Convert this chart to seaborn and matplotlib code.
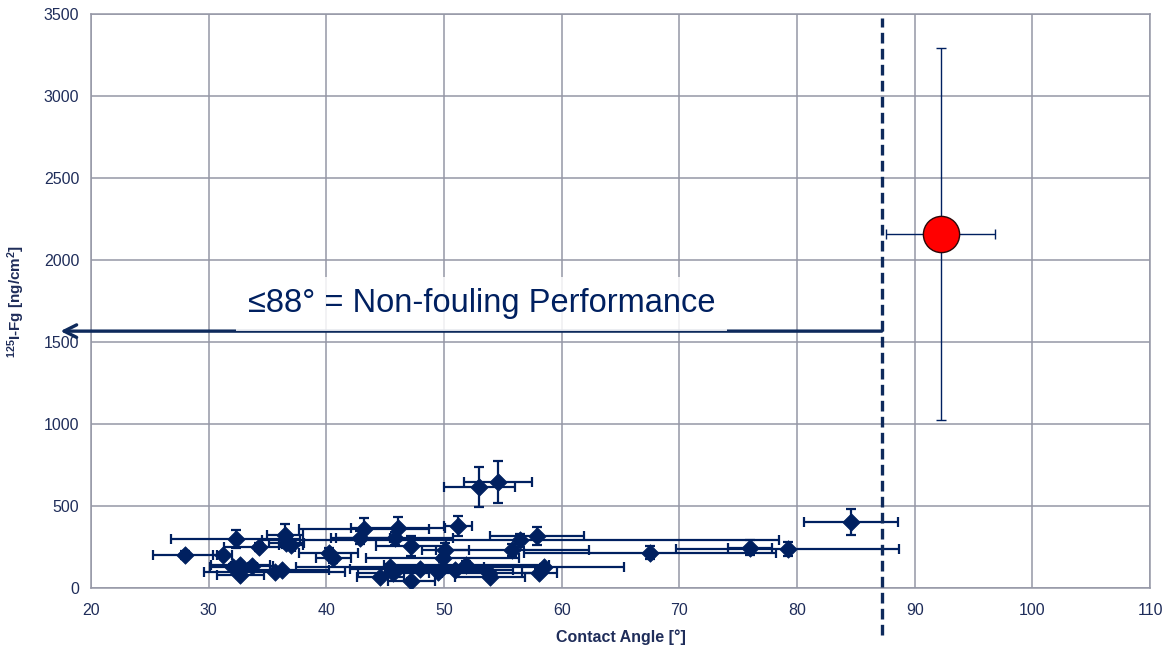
import matplotlib
matplotlib.use("Agg")
import matplotlib.pyplot as plt
import numpy as np
import pandas as pd
import seaborn as sns

# contact angle [deg], adsorbed fibrinogen [ng/cm2] and their error bars
angle = [28.0, 32.3, 31.2, 32.1, 32.7, 32.7, 33.7, 34.3, 35.6, 36.2,
         36.5, 36.6, 37.0, 40.2, 40.6, 42.9, 43.2, 44.6, 45.4, 45.7,
         45.8, 46.1, 47.2, 47.2, 48.0, 49.5, 50.1, 49.9, 51.2, 51.9,
         50.9, 53.0, 54.6, 53.9, 53.8, 55.8, 56.5, 57.9, 58.1, 58.5,
         67.5, 76.0, 79.2, 84.6]
fg = [200, 297, 202, 128, 138, 80, 132, 250, 99, 110,
      323, 274, 262, 212, 185, 306, 362, 66, 130, 92,
      302, 364, 258, 44, 116, 98, 234, 180, 378, 142,
      110, 616, 645, 68, 92, 232, 292, 317, 93, 128,
      215, 246, 238, 404]
angle_err = [2.7, 5.5, 0.8, 2.0, 2.5, 2.0, 1.8, 3.0, 6.0, 4.0,
             1.5, 1.5, 1.0, 2.5, 1.5, 2.5, 5.5, 2.0, 8.0, 3.0,
             5.0, 4.0, 3.0, 2.0, 6.0, 4.5, 2.0, 6.5, 1.2, 7.0,
             5.0, 3.0, 2.9, 3.0, 4.0, 6.5, 22.0, 4.0, 1.5, 6.8,
             10.7, 1.9, 9.5, 4.0]
fg_err = [25, 55, 20, 20, 20, 20, 20, 25, 15, 15,
          70, 30, 25, 30, 30, 40, 65, 15, 15, 20,
          40, 70, 60, 15, 15, 20, 40, 20, 60, 20,
          20, 120, 128, 20, 20, 35, 40, 55, 20, 20,
          40, 45, 45, 80]

# fouling reference surface
ref_angle = [92.2]
ref_fg = [2160]
ref_angle_err = [4.6]
ref_fg_err = [1137]

threshold = 87.2
arrow_y = 1567

navy = "#002060"
dark = "#0E2A5C"
grid_c = "#9597A6"
label_c = "#1F2D5A"

sns.set_style("white")
plt.rcParams["font.family"] = ["Liberation Sans", "DejaVu Sans"]
plt.rcParams["mathtext.fontset"] = "custom"
plt.rcParams["mathtext.rm"] = "Liberation Sans"
plt.rcParams["mathtext.bf"] = "Liberation Sans:bold"

df = pd.DataFrame({"angle": angle, "fg": fg})
ref = pd.DataFrame({"angle": ref_angle, "fg": ref_fg})

fig = plt.figure(figsize=(11.68, 6.49), dpi=100)
ax = fig.add_axes([0.0779, 0.094, 0.9067, 0.884])

ax.errorbar(angle, fg, xerr=angle_err, yerr=fg_err, fmt="none",
            ecolor=navy, elinewidth=1.6, capsize=3.5, capthick=1.6, zorder=3)
sns.scatterplot(data=df, x="angle", y="fg", marker="D", s=80, color=navy,
                edgecolor=navy, linewidth=0.5, ax=ax, zorder=4)

ax.errorbar(ref_angle, ref_fg, xerr=ref_angle_err, yerr=ref_fg_err, fmt="none",
            ecolor=navy, elinewidth=1.0, capsize=3.5, capthick=1.0, zorder=3)
sns.scatterplot(data=ref, x="angle", y="fg", marker="o", s=680, color="#FF0000",
                edgecolor="#2A0808", linewidth=1.0, ax=ax, zorder=5)

# threshold line, running past the axis
ax.plot([threshold, threshold], [-0.082, 0.993], color=dark, lw=2.4,
        ls=(0, (3.2, 1.6)), transform=ax.get_xaxis_transform(), clip_on=False,
        zorder=6)

ax.annotate("", xy=(17.4, arrow_y), xytext=(threshold, arrow_y),
            arrowprops=dict(arrowstyle="->,head_length=0.9,head_width=0.45",
                            color=dark, lw=2.4, shrinkA=0, shrinkB=0),
            annotation_clip=False, zorder=6)
ax.text(53.2, 1735, "≤88° = Non-fouling Performance", fontsize=23.5,
        color=navy, ha="center", va="center", zorder=7,
        bbox=dict(boxstyle="square,pad=0.35", facecolor="white",
                  edgecolor="none", alpha=0.85))

ax.set_xlim(20, 110)
ax.set_ylim(0, 3500)
ax.set_xticks(np.arange(20, 111, 10))
ax.set_yticks(np.arange(0, 3501, 500))
ax.grid(True, color=grid_c, lw=1.1)
ax.set_axisbelow(True)
for side in ax.spines.values():
    side.set_color(grid_c)
    side.set_linewidth(1.1)
ax.tick_params(axis="both", direction="out", length=5, width=1.1,
               color=grid_c, labelsize=11.5, labelcolor=label_c)
ax.tick_params(axis="x", pad=6)

ax.set_xlabel("Contact Angle [°]", fontsize=11.5, fontweight="bold",
              color=label_c, labelpad=8)
ax.set_ylabel(r"$\mathbf{^{125}}$I-Fg [ng/cm$\mathbf{^{2}}$]", fontsize=11,
              fontweight="bold", color=label_c, labelpad=12)

fig.savefig("out.png", dpi=100)
